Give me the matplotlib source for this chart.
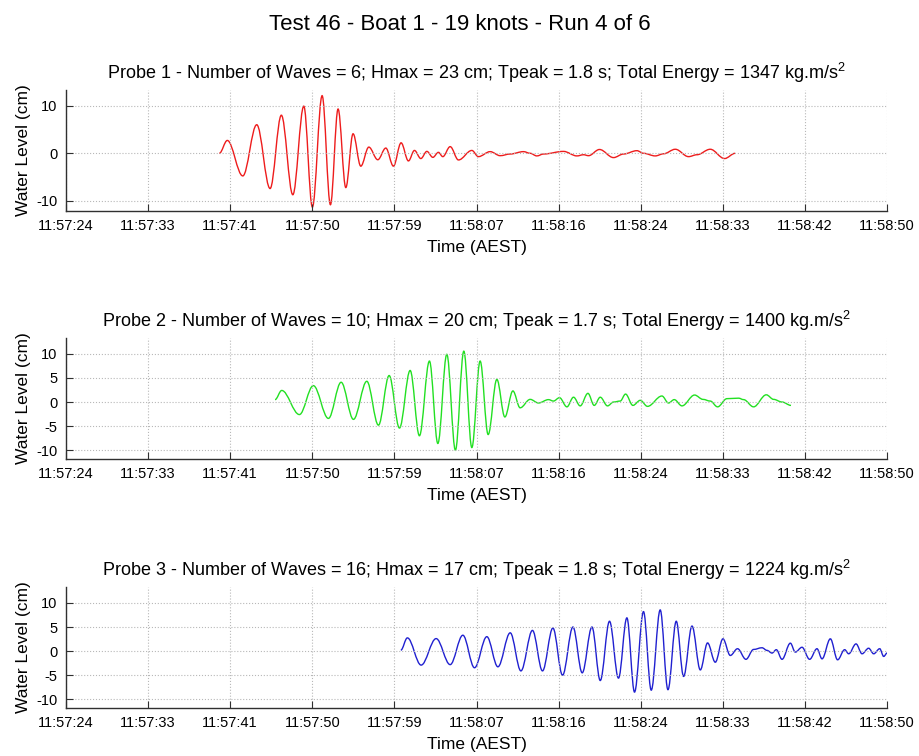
import matplotlib
matplotlib.use("Agg")
import matplotlib.pyplot as plt
from matplotlib.path import Path
from matplotlib.patches import PathPatch
import numpy as np

plt.rcParams['font.family'] = ['Liberation Sans', 'DejaVu Sans']
plt.rcParams['mathtext.fontset'] = 'custom'
plt.rcParams['mathtext.rm'] = 'Liberation Sans'
plt.rcParams['mathtext.default'] = 'regular'
plt.rcParams['axes.unicode_minus'] = False

# time axis: seconds after the first tick (11:57:24), 86 s shown
tick_labels = ['11:57:24', '11:57:33', '11:57:41', '11:57:50', '11:57:59', '11:58:07',
               '11:58:16', '11:58:24', '11:58:33', '11:58:42', '11:58:50']
t_span = 86.0

suptitle = 'Test 46 - Boat 1 - 19 knots - Run 4 of 6'
titles = [
    'Probe 1 - Number of Waves = 6; Hmax = 23 cm; Tpeak = 1.8 s; Total Energy = 1347 kg.m/s$^2$',
    'Probe 2 - Number of Waves = 10; Hmax = 20 cm; Tpeak = 1.7 s; Total Energy = 1400 kg.m/s$^2$',
    'Probe 3 - Number of Waves = 16; Hmax = 17 cm; Tpeak = 1.8 s; Total Energy = 1224 kg.m/s$^2$',
]

# Probe 1 (turning points of the trace)
t1 = [16.06, 16.90, 18.52, 19.98, 21.38, 22.56, 23.76, 24.91, 25.81, 26.83, 27.70, 28.50,
      29.31, 30.07, 30.88, 31.72, 32.66, 33.50, 34.30, 35.10, 35.87, 36.50, 37.17, 37.80,
      38.43, 39.01, 39.47, 40.24, 41.11, 42.51, 43.20, 44.43, 45.48, 46.53, 47.92, 48.62,
      49.32, 50.02, 52.11, 53.52, 54.21, 54.73, 55.88, 57.35, 58.40, 59.80, 60.49, 61.72,
      62.59, 63.82, 65.21, 66.09, 67.48, 68.98, 70.10]
h1 = [0.0, 2.7, -4.75, 6.0, -7.4, 8.0, -8.7, 9.9, -11.3, 12.1, -10.8, 9.3,
      -7.2, 4.1, -2.7, 1.3, -1.35, 1.1, -2.7, 2.2, -1.6, 0.6, -1.1, 0.4,
      -0.85, 0.2, -0.7, 1.4, -1.4, 0.6, -0.7, 0.35, -0.5, -0.15, 0.35, 0.0,
      -0.55, -0.15, 0.4, -0.55, -0.3, -0.5, 0.8, -0.9, -0.15, 0.55, 0.0, -0.55,
      -0.1, 0.85, -0.7, -0.3, 0.85, -1.1, 0.0]

# Probe 2
t2 = [21.90, 22.60, 24.45, 25.91, 27.49, 28.82, 30.11, 31.51, 32.73, 33.85, 34.93, 36.05,
      37.02, 38.07, 38.95, 39.89, 40.79, 41.67, 42.51, 43.38, 44.22, 45.13, 45.97, 46.81,
      47.57, 48.62, 49.49, 50.54, 51.06, 51.69, 52.47, 53.16, 53.86, 54.67, 55.33, 55.96,
      56.72, 57.35, 58.05, 58.61, 59.38, 60.15, 60.91, 62.42, 63.11, 63.71, 64.52, 65.84,
      66.72, 67.48, 68.25, 69.23, 70.45, 70.97, 72.02, 73.35, 74.12, 75.00, 75.94]
h2 = [0.5, 2.4, -2.6, 3.4, -3.4, 4.1, -3.6, 4.3, -4.8, 5.5, -5.4, 6.55,
      -7.0, 8.5, -8.6, 9.9, -10.0, 10.55, -9.45, 8.5, -6.75, 4.7, -3.1, 2.3,
      -1.2, 0.55, -0.2, 0.5, 0.2, 0.9, -1.0, 1.0, -0.8, 1.8, -0.7, 1.0,
      -0.8, 0.0, 0.2, 1.65, -0.7, 0.35, -0.9, 1.25, -0.2, 0.5, -0.8, 1.45,
      0.55, 0.2, -1.0, 0.7, 0.8, 0.5, -1.0, 1.5, 0.55, 0.0, -0.7]

# Probe 3
t3 = [35.07, 35.76, 37.20, 38.77, 40.24, 41.57, 42.79, 44.08, 45.24, 46.53, 47.65, 48.86,
      49.91, 51.00, 52.01, 53.10, 54.07, 55.09, 55.96, 56.93, 57.87, 58.75, 59.55, 60.49,
      61.30, 62.24, 63.05, 63.92, 64.69, 65.57, 66.44, 67.20, 68.01, 68.81, 69.58, 70.34,
      71.22, 72.02, 72.90, 73.43, 73.95, 74.40, 75.00, 75.87, 76.39, 77.09, 77.89, 78.66,
      79.19, 80.06, 80.82, 81.56, 81.98, 82.75, 83.38, 84.07, 84.60, 85.23, 85.65, 86.0]
h3 = [0.2, 2.75, -2.9, 2.6, -2.8, 3.3, -3.45, 3.0, -3.25, 3.8, -4.1, 4.3,
      -4.1, 4.8, -5.0, 5.0, -4.5, 5.0, -6.1, 6.2, -5.6, 6.9, -8.5, 8.2,
      -8.1, 8.55, -8.0, 6.2, -5.25, 5.2, -3.9, 1.7, -2.3, 2.55, -0.9, 0.5,
      -1.7, 0.35, 0.7, 0.15, -0.4, 0.3, -1.7, 1.65, -0.2, 0.8, -1.7, 0.5,
      -1.6, 2.55, -1.8, 0.3, -0.55, 1.5, -0.55, 0.6, -0.55, 0.5, -1.1, -0.4]

series = [(t1, h1), (t2, h2), (t3, h3)]
colors = ['#ee1c1c', '#22e022', '#2020d0']
yticks = [[-10, 0, 10], [-10, -5, 0, 5, 10], [-10, -5, 0, 5, 10]]
ylims = [(-12.1, 13.3), (-11.8, 13.3), (-11.8, 13.3)]
bottoms = [0.721, 0.393, 0.0635]


def turning_point_path(t, h):
    # the points are crests and troughs, so each segment leaves and
    # arrives flat; a cubic with flat handles gives the rounded wave shape
    verts = [(t[0], h[0])]
    codes = [Path.MOVETO]
    for k in range(len(t) - 1):
        d = 0.36 * (t[k + 1] - t[k])
        verts += [(t[k] + d, h[k]), (t[k + 1] - d, h[k + 1]), (t[k + 1], h[k + 1])]
        codes += [Path.CURVE4] * 3
    return Path(verts, codes)


fig = plt.figure(figsize=(9.2, 7.56), dpi=100)
fig.suptitle(suptitle, fontsize=16, y=0.982)

for i in range(3):
    ax = fig.add_axes([0.0717, bottoms[i], 0.8925, 0.160])
    t, h = series[i]
    ax.add_patch(PathPatch(turning_point_path(t, h), fill=False,
                           edgecolor=colors[i], linewidth=1.0))
    ax.set_xlim(0, t_span)
    ax.set_ylim(*ylims[i])
    ax.set_xticks(np.linspace(0, t_span, len(tick_labels)))
    ax.set_xticklabels(tick_labels)
    ax.set_yticks(yticks[i])
    ax.grid(True, linestyle=':', color='#b8b8b8', linewidth=0.8)
    for s in ['top', 'right']:
        ax.spines[s].set_visible(False)
    for s in ['left', 'bottom']:
        ax.spines[s].set_color('#303030')
        ax.spines[s].set_linewidth(1.0)
    ax.tick_params(direction='in', length=5, labelsize=10.5, pad=6, color='#303030')
    ax.set_title(titles[i], fontsize=13, pad=8)
    ax.set_xlabel('Time (AEST)', fontsize=12.5, labelpad=5)
    ax.set_ylabel('Water Level (cm)', fontsize=12.5, labelpad=4)

fig.savefig('out.png', dpi=100, facecolor='white')
